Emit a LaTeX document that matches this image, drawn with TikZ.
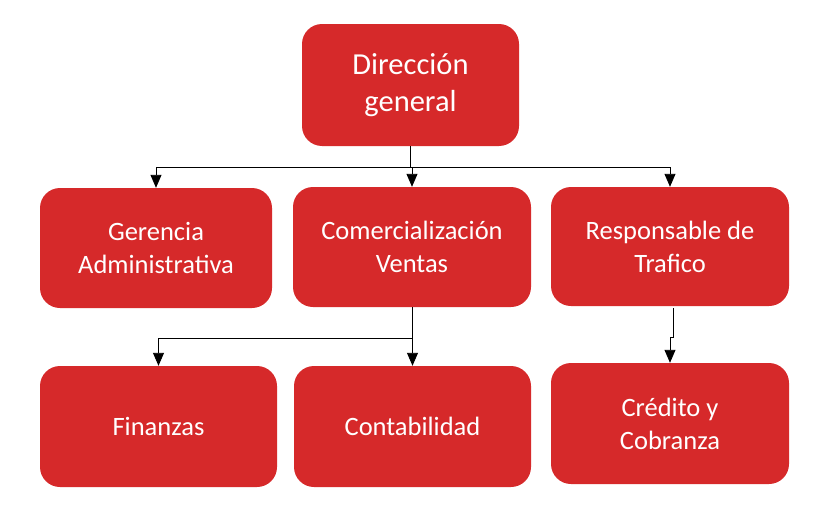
\documentclass[tikz,border=0pt]{standalone}
\usepackage{fontspec}
\setmainfont{Carlito}
\usetikzlibrary{arrows.meta,calc}
\definecolor{boxred}{RGB}{214,41,42}
\begin{document}
\begin{tikzpicture}[x=1pt,y=-1pt,
  box/.style={fill=boxred,draw=none,rounded corners=20pt,text=white,align=center,inner sep=0pt},
  conn/.style={draw=black,line width=0.9pt,-{Triangle[width=11pt,length=13pt]}},
  lvl/.style={font=\fontsize{26.5}{33}\selectfont}]
\useasboundingbox (0,0) rectangle (828,506);
\node[box,minimum width=217pt,minimum height=122pt,font=\fontsize{30.5}{37}\selectfont] (top) at (410.5,85) {Dirección\\general};
\node[box,lvl,minimum width=232pt,minimum height=120pt] (ger) at (156,248) {Gerencia\\Administrativa};
\node[box,lvl,minimum width=238pt,minimum height=120pt] (com) at (412,247) {Comercialización\\Ventas};
\node[box,lvl,minimum width=238pt,minimum height=119pt] (res) at (670,246.5) {Responsable de\\Trafico};
\node[box,lvl,minimum width=237pt,minimum height=121pt] (fin) at (158.5,426.5) {Finanzas};
\node[box,lvl,minimum width=237pt,minimum height=121pt] (con) at (412.5,426.5) {Contabilidad};
\node[box,lvl,minimum width=238pt,minimum height=121pt] (cre) at (670,423.5) {Crédito y\\Cobranza};
\coordinate (h1) at ($(top.south)+(0,21)$);
\draw[conn] (top.south) -- (h1) -| (ger.north);
\draw[conn] (h1) -| (com.north);
\draw[conn] (h1) -| (res.north);
\coordinate (h2) at ($(com.south)+(0,31)$);
\draw[conn] (com.south) -- (h2) -| (fin.north);
\draw[conn] (h2) -| (con.north);
\coordinate (r1) at ($(res.south)+(3,2)$);
\coordinate (r2) at ($(r1)+(0,29)$);
\draw[conn] (r1) -- (r2) -| (cre.north);
\end{tikzpicture}
\end{document}
